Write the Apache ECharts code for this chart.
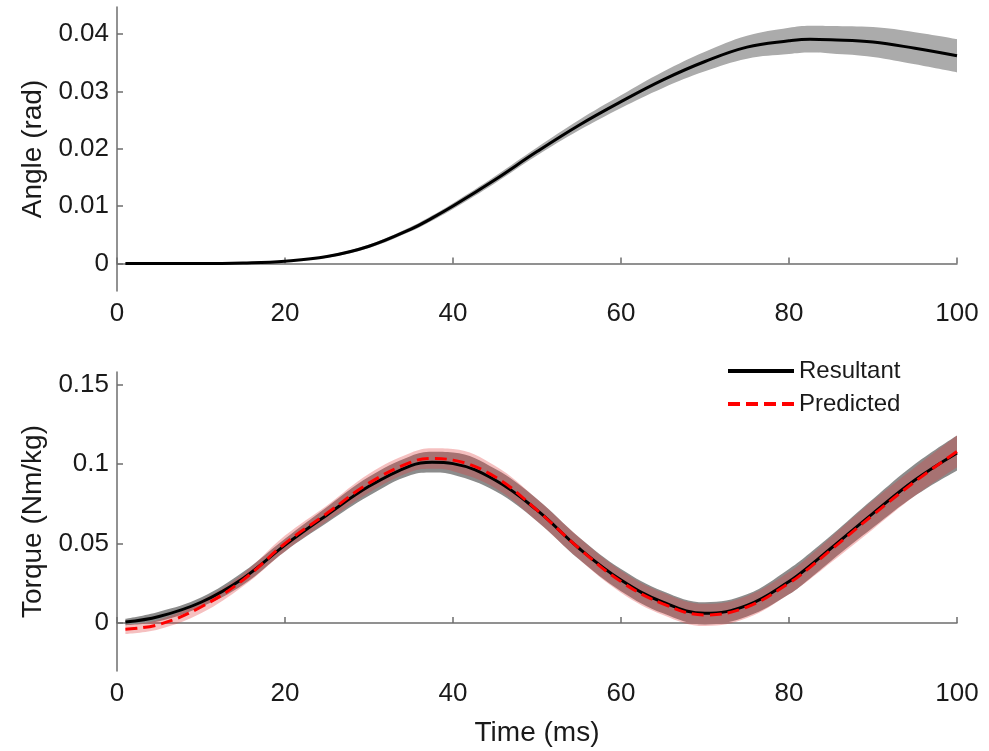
<!DOCTYPE html>
<html>
<head>
<meta charset="utf-8">
<script src="https://cdn.jsdelivr.net/npm/echarts@6/dist/echarts.min.js"></script>
<style>
html,body{margin:0;padding:0;background:#fff;}
#chart{width:989px;height:751px;}
</style>
</head>
<body>
<div id="chart"></div>
<script>
// ---- data ----
var time = [1, 5, 10, 15, 20, 25, 30, 35, 37.5, 40, 45, 50, 55, 60, 65, 70, 75, 80, 82.5, 85, 90, 95, 100];
var angleMean = [0, 0, 0, 0.0001, 0.0004, 0.0012, 0.0030, 0.0060, 0.0079, 0.0100, 0.0146, 0.0195, 0.0241, 0.0282, 0.0320, 0.0352, 0.0377, 0.0388, 0.0391, 0.0390, 0.0386, 0.0375, 0.0362];
var angleSpread = [0, 0, 0, 0.0001, 0.0001, 0.0002, 0.0003, 0.0004, 0.00045, 0.0005, 0.0006, 0.0007, 0.0009, 0.0011, 0.0014, 0.0017, 0.0020, 0.0023, 0.00235, 0.0024, 0.0026, 0.0028, 0.0029];
var torqueResultant = [0.0005, 0.004, 0.013, 0.028, 0.049, 0.068, 0.086, 0.0991, 0.1012, 0.1003, 0.090, 0.071, 0.047, 0.027, 0.013, 0.006, 0.011, 0.026, 0.036, 0.047, 0.069, 0.090, 0.107];
var resultantSpread = [0.002, 0.003, 0.003, 0.004, 0.004, 0.005, 0.006, 0.006, 0.0065, 0.007, 0.007, 0.007, 0.007, 0.007, 0.007, 0.007, 0.007, 0.008, 0.008, 0.008, 0.009, 0.010, 0.011];
var torquePredicted = [-0.004, -0.001, 0.010, 0.027, 0.050, 0.069, 0.088, 0.1012, 0.1035, 0.1025, 0.092, 0.071, 0.047, 0.026, 0.012, 0.005, 0.010, 0.025, 0.035, 0.046, 0.068, 0.089, 0.108];
var predictedSpread = [0.003, 0.003, 0.004, 0.004, 0.005, 0.005, 0.006, 0.006, 0.0065, 0.007, 0.007, 0.007, 0.007, 0.007, 0.007, 0.007, 0.007, 0.007, 0.0075, 0.008, 0.009, 0.009, 0.010];
var xTicks = [0, 20, 40, 60, 80, 100];
var angleTicks = [0, 0.01, 0.02, 0.03, 0.04];
var torqueTicks = [0, 0.05, 0.1, 0.15];
var seriesNames = ['Resultant', 'Predicted'];

// ---- helpers ----
// rows are [value, time] so that stacking happens on the value (y) dimension
function rows(ys) { return time.map(function (x, i) { return [ys[i], x]; }); }
function lower(m, s) { return m.map(function (v, i) { return v - s[i]; }); }
function width(s) { return s.map(function (v) { return 2 * v; }); }

var FONT = '"Liberation Sans", Arial, Helvetica, sans-serif';
var axisLineStyle = { color: '#6e6e6e', width: 1.5 };
var labelStyle = { color: '#1a1a1a', fontSize: 26, fontFamily: FONT };
var nameStyle = { color: '#1a1a1a', fontSize: 28, fontFamily: FONT };
var SMOOTH = 0.4;

function xAxisDef(gridIndex, showName) {
  return {
    type: 'value', gridIndex: gridIndex, min: 0, max: 100,
    axisLine: { show: true, lineStyle: axisLineStyle },
    axisTick: { show: true, inside: true, length: 6, lineStyle: axisLineStyle, customValues: xTicks },
    axisLabel: Object.assign({ margin: 10, customValues: xTicks }, labelStyle),
    splitLine: { show: false },
    name: showName ? 'Time (ms)' : '', nameLocation: 'middle', nameGap: 48,
    nameTextStyle: nameStyle
  };
}
function yAxisDef(gridIndex, min, max, ticks, name, gap) {
  return {
    type: 'value', gridIndex: gridIndex, min: min, max: max,
    axisLine: { show: true, lineStyle: axisLineStyle },
    axisTick: { show: true, inside: true, length: 6, lineStyle: axisLineStyle, customValues: ticks },
    axisLabel: Object.assign({ margin: 8, customValues: ticks }, labelStyle),
    splitLine: { show: false },
    name: name, nameLocation: 'middle', nameGap: gap,
    nameTextStyle: nameStyle
  };
}
function lineSeries(idx, name, ys, style, extra) {
  return Object.assign({
    type: 'line', name: name, xAxisIndex: idx, yAxisIndex: idx,
    data: rows(ys), encode: { x: 1, y: 0 },
    symbol: 'none', smooth: SMOOTH, lineStyle: style
  }, extra || {});
}
function bandSeries(idx, stackId, m, s, color) {
  return [
    lineSeries(idx, stackId + 'Low', lower(m, s), { opacity: 0, width: 0 },
      { stack: stackId, stackStrategy: 'all', silent: true }),
    lineSeries(idx, stackId + 'Width', width(s), { opacity: 0, width: 0 },
      { stack: stackId, stackStrategy: 'all', silent: true, areaStyle: { color: color, opacity: 1 } })
  ];
}

var series = [];
series = series.concat(bandSeries(0, 'angleBand', angleMean, angleSpread, '#ababab'));
series.push(lineSeries(0, 'Angle', angleMean, { color: '#000', width: 3 }));
series = series.concat(bandSeries(1, 'resBand', torqueResultant, resultantSpread, '#8c8c8c'));
series = series.concat(bandSeries(1, 'predBand', torquePredicted, predictedSpread, 'rgba(225,60,60,0.32)'));
series.push(lineSeries(1, seriesNames[0], torqueResultant, { color: '#000', width: 3 }, { color: '#000' }));
series.push(lineSeries(1, seriesNames[1], torquePredicted, { color: '#ff0000', width: 3, type: [12, 6] }, { color: '#ff0000' }));

var option = {
  animation: false,
  backgroundColor: '#fff',
  grid: [
    { left: 117, top: 7, width: 840, height: 284 },
    { left: 117, top: 372, width: 840, height: 299 }
  ],
  xAxis: [xAxisDef(0, false), xAxisDef(1, true)],
  yAxis: [
    yAxisDef(0, -0.0048, 0.0447, angleTicks, 'Angle (rad)', 68),
    yAxisDef(1, -0.0303, 0.158, torqueTicks, 'Torque (Nm/kg)', 68)
  ],
  legend: {
    data: seriesNames, orient: 'vertical', left: 721, top: 354,
    itemWidth: 66, itemHeight: 14, itemGap: 9,
    itemStyle: { opacity: 0 },
    lineStyle: { width: 4 },
    textStyle: { color: '#1a1a1a', fontSize: 24, fontFamily: FONT },
    selectedMode: false
  },
  series: series
};
var chart = echarts.init(document.getElementById('chart'));
chart.setOption(option);
</script>
</body>
</html>
